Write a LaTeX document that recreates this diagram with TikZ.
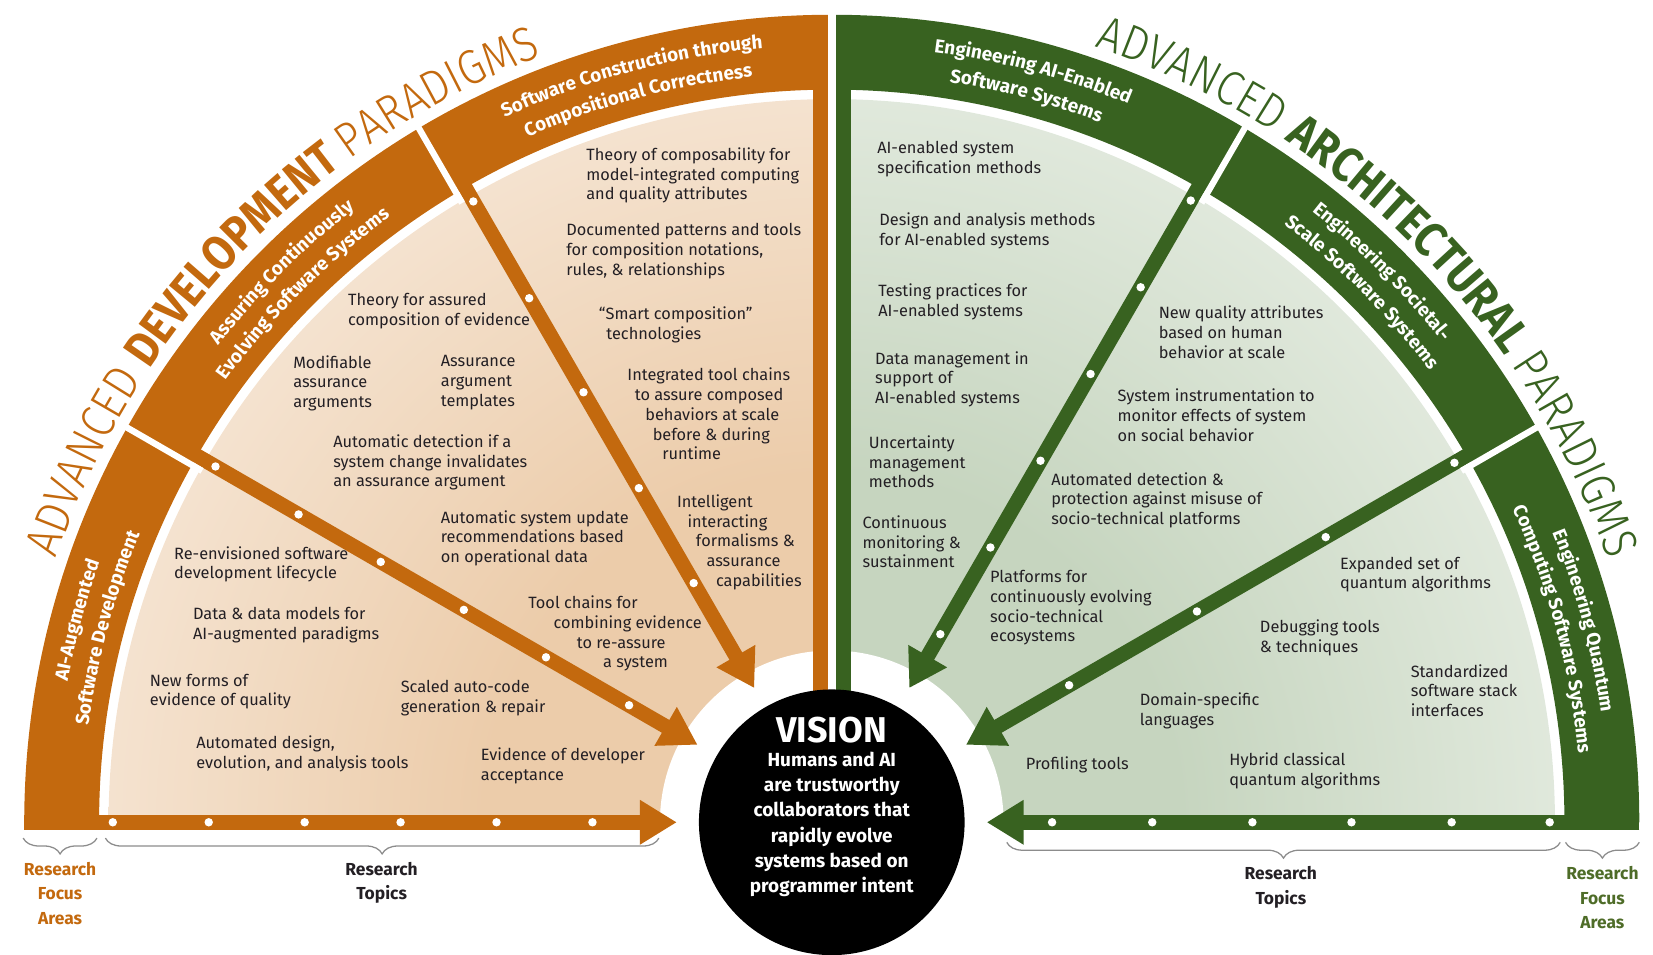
\documentclass[tikz,border=0pt]{standalone}
\usepackage{fontspec}
\setmainfont{Fira Sans}
\newfontfamily\thinfont{Fira Sans Light}[FakeStretch=0.88]
\newfontfamily\heavyfont{Fira Sans}[FakeStretch=0.88]
\usetikzlibrary{arrows.meta,calc,decorations.text,decorations.pathreplacing}

\definecolor{devorange}{RGB}{195,105,14}
\definecolor{archgreen}{RGB}{56,98,32}
\definecolor{warmcore}{RGB}{236,204,170}
\definecolor{warmmid}{RGB}{245,228,210}
\definecolor{warmedge}{RGB}{253,250,246}
\definecolor{sagecore}{RGB}{198,213,191}
\definecolor{sagemid}{RGB}{226,234,222}
\definecolor{sageedge}{RGB}{249,250,248}
\definecolor{inkdark}{RGB}{35,31,36}
\definecolor{focusgreen}{RGB}{78,108,40}
\definecolor{bracegray}{RGB}{140,140,140}

\pgfdeclareradialshading{warmglow}{\pgfpointorigin}{color(0bp)=(warmcore);
  color(6bp)=(warmcore); color(13bp)=(warmmid); color(25bp)=(warmedge);
  color(50bp)=(warmedge)}
\pgfdeclareradialshading{sageglow}{\pgfpointorigin}{color(0bp)=(sagecore);
  color(6bp)=(sagecore); color(13bp)=(sagemid); color(25bp)=(sageedge);
  color(50bp)=(sageedge)}

\newcommand\titlethin{\fontsize{46}{46}\thinfont}
\newcommand\titlebold{\fontsize{46}{46}\heavyfont\bfseries}
\newcommand\bandsize{\fontsize{18}{18}\selectfont\bfseries}

\tikzset{
  topic/.style={anchor=north west, inner sep=0pt, align=left, text=inkdark,
    font=\fontsize{15.5}{18.7}\selectfont},
  devarrow/.style={draw=devorange, line width=14pt,
    -{Triangle[length=35pt,width=40pt]}},
  archarrow/.style={devarrow, draw=archgreen},
  gapline/.style={draw=white, line width=6pt},
  bandtitle/.style={decorate, decoration={text along path, text align=center,
    text color=white, text={|\bandsize|#1}}},
  bracket/.style={draw=bracegray, line width=1.2pt, decorate,
    decoration={brace, mirror, amplitude=15pt}},
  focuslabel/.style={anchor=north, align=center, inner sep=0pt,
    font=\fontsize{16.5}{23}\selectfont\bfseries}
}

\begin{document}
\begin{tikzpicture}[x=1pt,y=1pt]
\useasboundingbox (-789,-125) rectangle (779,780);

% soft fills
\begin{scope}
  \clip (0,0) -- (180:686) arc[start angle=180,end angle=90,radius=686] -- cycle;
  \shade[shading=warmglow] (0,0) circle (1372);
\end{scope}
\begin{scope}
  \clip (0,0) -- (90:686) arc[start angle=90,end angle=0,radius=686] -- cycle;
  \shade[shading=sageglow] (0,0) circle (1372);
\end{scope}
\fill[white] (0,0) circle (163);

% outer bands
\fill[devorange] (180:766) arc[start angle=180,end angle=90,radius=766]
  -- (90:695) arc[start angle=90,end angle=180,radius=695] -- cycle;
\fill[archgreen] (90:766) arc[start angle=90,end angle=0,radius=766]
  -- (0:695) arc[start angle=0,end angle=90,radius=695] -- cycle;

% centre split
\fill[white] (-4,0) rectangle (4,772);
\fill[devorange] (-18,110) rectangle (-4,700);
\fill[archgreen] (4,110) rectangle (18,700);

% arrows
\draw[devarrow] (180:766) -- (180:147);
\draw[devarrow] (150:698) -- (150:147);
\draw[devarrow] (120:698) -- (120:147);
\draw[archarrow] (0:766) -- (0:147);
\draw[archarrow] (30:698) -- (30:147);
\draw[archarrow] (60:698) -- (60:147);

% gaps between focus areas
\draw[gapline] ($(150:684)+(240:10)$) -- ($(150:772)+(240:10)$);
\draw[gapline] ($(120:684)+(210:10)$) -- ($(120:772)+(210:10)$);
\draw[gapline] ($(60:684)+(-30:10)$) -- ($(60:772)+(-30:10)$);
\draw[gapline] ($(30:684)+(-60:10)$) -- ($(30:772)+(-60:10)$);

% dots
\foreach \r in {682,591,500,409,318,227} \fill[white] (180:\r) circle (4);
\foreach \r in {675,584,494,403,313,222} \fill[white] (150:\r) circle (4);
\foreach \r in {680,574,471,366,262} \fill[white] (120:\r) circle (4);
\foreach \r in {681,586,491,396,301,206} \fill[white] (60:\r) circle (4);
\foreach \r in {682,541,400,260} \fill[white] (30:\r) circle (4);
\foreach \r in {681,588,493,399,304,209} \fill[white] (0:\r) circle (4);

% focus area titles
\path[bandtitle=AI-Augmented] (179:737) arc[start angle=179,end angle=151,radius=737];
\path[bandtitle=Software Development] (179:711) arc[start angle=179,end angle=151,radius=711];
\path[bandtitle=Assuring Continuously] (149:737) arc[start angle=149,end angle=121,radius=737];
\path[bandtitle=Evolving Software Systems] (149:711) arc[start angle=149,end angle=121,radius=711];
\path[bandtitle=Software Construction through] (119:737) arc[start angle=119,end angle=91,radius=737];
\path[bandtitle=Compositional Correctness] (119:711) arc[start angle=119,end angle=91,radius=711];
\path[bandtitle=Engineering AI-Enabled] (89:737) arc[start angle=89,end angle=61,radius=737];
\path[bandtitle=Software Systems] (89:711) arc[start angle=89,end angle=61,radius=711];
\path[bandtitle=Engineering Societal-] (59:737) arc[start angle=59,end angle=31,radius=737];
\path[bandtitle=Scale Software Systems] (59:711) arc[start angle=59,end angle=31,radius=711];
\path[bandtitle=Engineering Quantum] (29:737) arc[start angle=29,end angle=1,radius=737];
\path[bandtitle=Computing Software Systems] (29:711) arc[start angle=29,end angle=1,radius=711];

% paradigm titles
\path[decorate,decoration={text along path,text align=center,text color=devorange,
  text={|\titlethin|ADVANCED |\titlebold|DEVELOPMENT |\titlethin|PARADIGMS}}]
  (178:777) arc[start angle=178,end angle=94,radius=777];
\path[decorate,decoration={text along path,text align=center,text color=archgreen,
  text={|\titlethin|ADVANCED |\titlebold|ARCHITECTURAL |\titlethin|PARADIGMS}}]
  (86:777) arc[start angle=86,end angle=4,radius=777];

% vision
\node[circle, fill=black, minimum size=252pt, inner sep=0pt] (vision) at (0,0) {};
\node[inner sep=0pt, text=white, font=\fontsize{34}{34}\selectfont\bfseries] (visiontitle) at (0,87) {VISION};
\node[anchor=north, align=center, inner sep=0pt, text=white,
  font=\fontsize{18}{24}\selectfont\bfseries] (visiontext) at (0,67)
  {Humans and AI\\are trustworthy\\collaborators that\\rapidly evolve\\systems based on\\programmer intent};

% development topics
\node[topic] (theorycomp) at (-233,640) {Theory of composability for\\model-integrated computing\\and quality attributes};
\node[topic] (docpatterns) at (-252,568) {Documented patterns and tools\\for composition notations,\\rules, \& relationships};
\node[topic] (smartcomp) at (-221,489) {“Smart composition”\\\hspace*{7pt}technologies};
\node[topic] (toolchains) at (-194,431) {Integrated tool chains\\\hspace*{7pt}to assure composed\\\hspace*{17pt}behaviors at scale\\\hspace*{24pt}before \& during\\\hspace*{33pt}runtime};
\node[topic] (intelligent) at (-147,311) {Intelligent\\\hspace*{10pt}interacting\\\hspace*{18pt}formalisms \&\\\hspace*{28pt}assurance\\\hspace*{37pt}capabilities};
\node[topic] (theoryassured) at (-459,502) {Theory for assured\\composition of evidence};
\node[topic] (modifiable) at (-511,443) {Modifiable\\assurance\\arguments};
\node[topic] (templates) at (-371,443) {Assurance\\argument\\templates};
\node[topic] (autodetect) at (-473,368) {Automatic detection if a\\system change invalidates\\an assurance argument};
\node[topic] (autoupdate) at (-371,296) {Automatic system update\\recommendations based\\on operational data};
\node[topic] (reassure) at (-288,215) {Tool chains for\\\hspace*{24pt}combining evidence\\\hspace*{46pt}to re-assure\\\hspace*{71pt}a system};
\node[topic] (sdlc) at (-624,262) {Re-envisioned software\\development lifecycle};
\node[topic] (datamodels) at (-606,204) {Data \& data models for\\AI-augmented paradigms};
\node[topic] (evidence) at (-647,141) {New forms of\\evidence of quality};
\node[topic] (autocode) at (-409,135) {Scaled auto-code\\generation \& repair};
\node[topic] (autodesign) at (-603,82) {Automated design,\\evolution, and analysis tools};
\node[topic] (acceptance) at (-333,71) {Evidence of developer\\acceptance};

% architecture topics
\node[topic] (aispec) at (43,646) {AI-enabled system\\specification methods};
\node[topic] (aidesign) at (45,578) {Design and analysis methods\\for AI-enabled systems};
\node[topic] (aitesting) at (44,511) {Testing practices for\\AI-enabled systems};
\node[topic] (aidata) at (41,447) {Data management in\\support of\\AI-enabled systems};
\node[topic] (uncertainty) at (35,367) {Uncertainty\\management\\methods};
\node[topic] (monitoring) at (29,291) {Continuous\\monitoring \&\\sustainment};
\node[topic] (newquality) at (310,490) {New quality attributes\\based on human\\behavior at scale};
\node[topic] (instrument) at (271,411) {System instrumentation to\\monitor effects of system\\on social behavior};
\node[topic] (misuse) at (208,332) {Automated detection \&\\protection against misuse of\\socio-technical platforms};
\node[topic] (platforms) at (150,239) {Platforms for\\continuously evolving\\socio-technical\\ecosystems};
\node[topic] (quantumalgo) at (482,252) {Expanded set of\\quantum algorithms};
\node[topic] (debugging) at (406,192) {Debugging tools\\\& techniques};
\node[topic] (stack) at (549,150) {Standardized\\software stack\\interfaces};
\node[topic] (dsl) at (292,123) {Domain-specific\\languages};
\node[topic] (profiling) at (184,62) {Profiling tools};
\node[topic] (hybrid) at (377,66) {Hybrid classical\\quantum algorithms};

% braces and labels
\draw[bracket] (-767,-15) -- (-697,-15);
\draw[bracket] (-689,-15) -- (-164,-15);
\draw[bracket] (166,-19) -- (691,-19);
\draw[bracket] (696,-19) -- (766,-19);
\node[focuslabel, text=devorange] (focusleft) at (-732,-38) {Research\\Focus\\Areas};
\node[focuslabel, text=inkdark] (topicsleft) at (-427,-38) {Research\\Topics};
\node[focuslabel, text=inkdark] (topicsright) at (426,-42) {Research\\Topics};
\node[focuslabel, text=focusgreen] (focusright) at (731,-42) {Research\\Focus\\Areas};

\end{tikzpicture}
\end{document}
